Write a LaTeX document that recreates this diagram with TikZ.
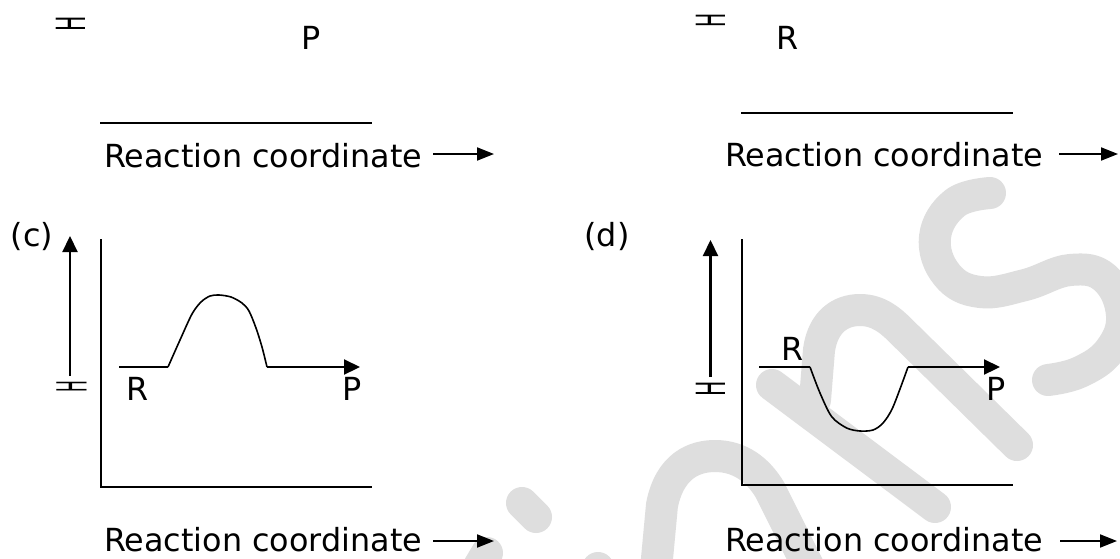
\documentclass[tikz,border=0pt]{standalone}
\usepackage{fontspec}
\setmainfont{DejaVu Sans}
\usetikzlibrary{arrows.meta}
\definecolor{wm}{RGB}{222,222,222}
\begin{document}
\begin{tikzpicture}[x=1pt,y=-1pt,
  txt/.style={inner sep=0pt, font=\fontsize{31.8pt}{36pt}\selectfont},
  hsym/.style={inner sep=0pt, font=\fontsize{31.4pt}{36pt}\selectfont},
  frame/.style={line width=2pt},
  level/.style={line width=1.4pt},
  profile/.style={line width=1.6pt, line join=round},
  arr/.style={line width=2.2pt, -{Triangle[length=16pt,width=15pt]}},
  textarr/.style={line width=2pt, -{Triangle[length=17pt,width=13pt]}},
  wmark/.style={draw=wm, line width=32pt, line cap=round, line join=round}]

% page
\fill[white] (0,0) rectangle (1120,558);
\useasboundingbox (0,0) rectangle (1120,558);

% faint background lettering
\draw[wmark] (522,503) -- (536,517);
\draw[wmark] (487,553) -- (468,585);
\draw[wmark] (598,568) -- (620,600);
\draw[wmark] (655,580) -- (662,505) .. controls (670,465) and (695,456) .. (715,456)
  .. controls (740,456) and (758,470) .. (770,490) -- (815,580);
\draw[wmark] (772,385) -- (935,507);
\draw[wmark] (815,400) -- (819,350) .. controls (823,322) and (840,310) .. (860,310)
  .. controls (878,310) and (890,320) .. (900,330) -- (1017,445);
\draw[wmark] plot[smooth, tension=0.7] coordinates {(990,193) (955,203) (935,237)
  (947,275) (980,292) (1025,285) (1070,270) (1105,278) (1122,315) (1110,350)
  (1080,372) (1048,380)};

% ---------- panel (a), lower part ----------
\node[hsym] (aH) at (71,24) {\rotatebox{90}{\scalebox{0.65}[1.28]{H}}};
\node[txt, anchor=base] (aP) at (311,49) {P};
\coordinate (aL1) at (100,123);
\coordinate (aL2) at (372,123);
\draw[frame] (aL1) -- (aL2);
\node[txt, anchor=base west] (aX) at (104,167) {Reaction coordinate};
\coordinate (aA1) at (433,154);
\coordinate (aA2) at (494,154);
\draw[textarr] (aA1) -- (aA2);

% ---------- panel (b), lower part ----------
\node[hsym] (bH) at (711,20) {\rotatebox{90}{\scalebox{0.6}[1.28]{H}}};
\node[txt, anchor=base] (bR) at (788,49) {R};
\coordinate (bL1) at (741,113);
\coordinate (bL2) at (1013,113);
\draw[frame] (bL1) -- (bL2);
\node[txt, anchor=base west] (bX) at (725,166) {Reaction coordinate};
\coordinate (bA1) at (1059,154);
\coordinate (bA2) at (1118,154);
\draw[textarr] (bA1) -- (bA2);

% ---------- panel (c) ----------
\node[txt, anchor=base] (cTag) at (32,246) {(c)};
\coordinate (cU1) at (70,376);
\coordinate (cU2) at (70,236);
\draw[arr] (cU1) -- (cU2);
\node[hsym] (cH) at (71.5,386.5) {\rotatebox{90}{\scalebox{0.5}[1.32]{H}}};
\coordinate (cTop) at (100.7,239);
\coordinate (cO) at (100.7,487);
\coordinate (cEnd) at (372,487);
\draw[frame] (cTop) -- (cO) -- (cEnd);
\coordinate (cR1) at (119,367);
\coordinate (cR2) at (168,367);
\draw[level] (cR1) -- (cR2);
\draw[profile] plot[smooth, tension=0.5] coordinates {(168,367) (180,340) (192,314)
  (201,302) (210,296) (219,295) (231,297) (242,303) (249,311) (256,328) (262,347)
  (267,367)};
\coordinate (cP1) at (267,367);
\coordinate (cP2) at (360,367);
\draw[arr] (cP1) -- (cP2);
\node[txt, anchor=base] (cR) at (138,400) {R};
\node[txt, anchor=base] (cP) at (352,400) {P};
\node[txt, anchor=base west] (cX) at (104,551) {Reaction coordinate};
\coordinate (cA1) at (433,541);
\coordinate (cA2) at (494,541);
\draw[textarr] (cA1) -- (cA2);

% ---------- panel (d) ----------
\node[txt, anchor=base] (dTag) at (607,246) {(d)};
\coordinate (dU1) at (710.5,377);
\coordinate (dU2) at (710.5,240);
\draw[arr] (dU1) -- (dU2);
\node[hsym] (dH) at (711,389) {\rotatebox{90}{\scalebox{0.65}[1.28]{H}}};
\coordinate (dTop) at (742,239);
\coordinate (dO) at (742,485);
\coordinate (dEnd) at (1013,485);
\draw[frame] (dTop) -- (dO) -- (dEnd);
\coordinate (dR1) at (759,367);
\coordinate (dR2) at (810,367);
\draw[level] (dR1) -- (dR2);
\draw[profile] plot[smooth, tension=0.5] coordinates {(810,367) (820,393) (831.7,416.7)
  (846.7,428) (860,431) (873,430) (883,423) (893,407) (908,367)};
\coordinate (dP1) at (908,367);
\coordinate (dP2) at (1000,367);
\draw[arr] (dP1) -- (dP2);
\node[txt, anchor=base] (dR) at (793,360) {R};
\node[txt, anchor=base] (dP) at (996,400) {P};
\node[txt, anchor=base west] (dX) at (725,551) {Reaction coordinate};
\coordinate (dA1) at (1060,541);
\coordinate (dA2) at (1117,541);
\draw[textarr] (dA1) -- (dA2);
\end{tikzpicture}
\end{document}
